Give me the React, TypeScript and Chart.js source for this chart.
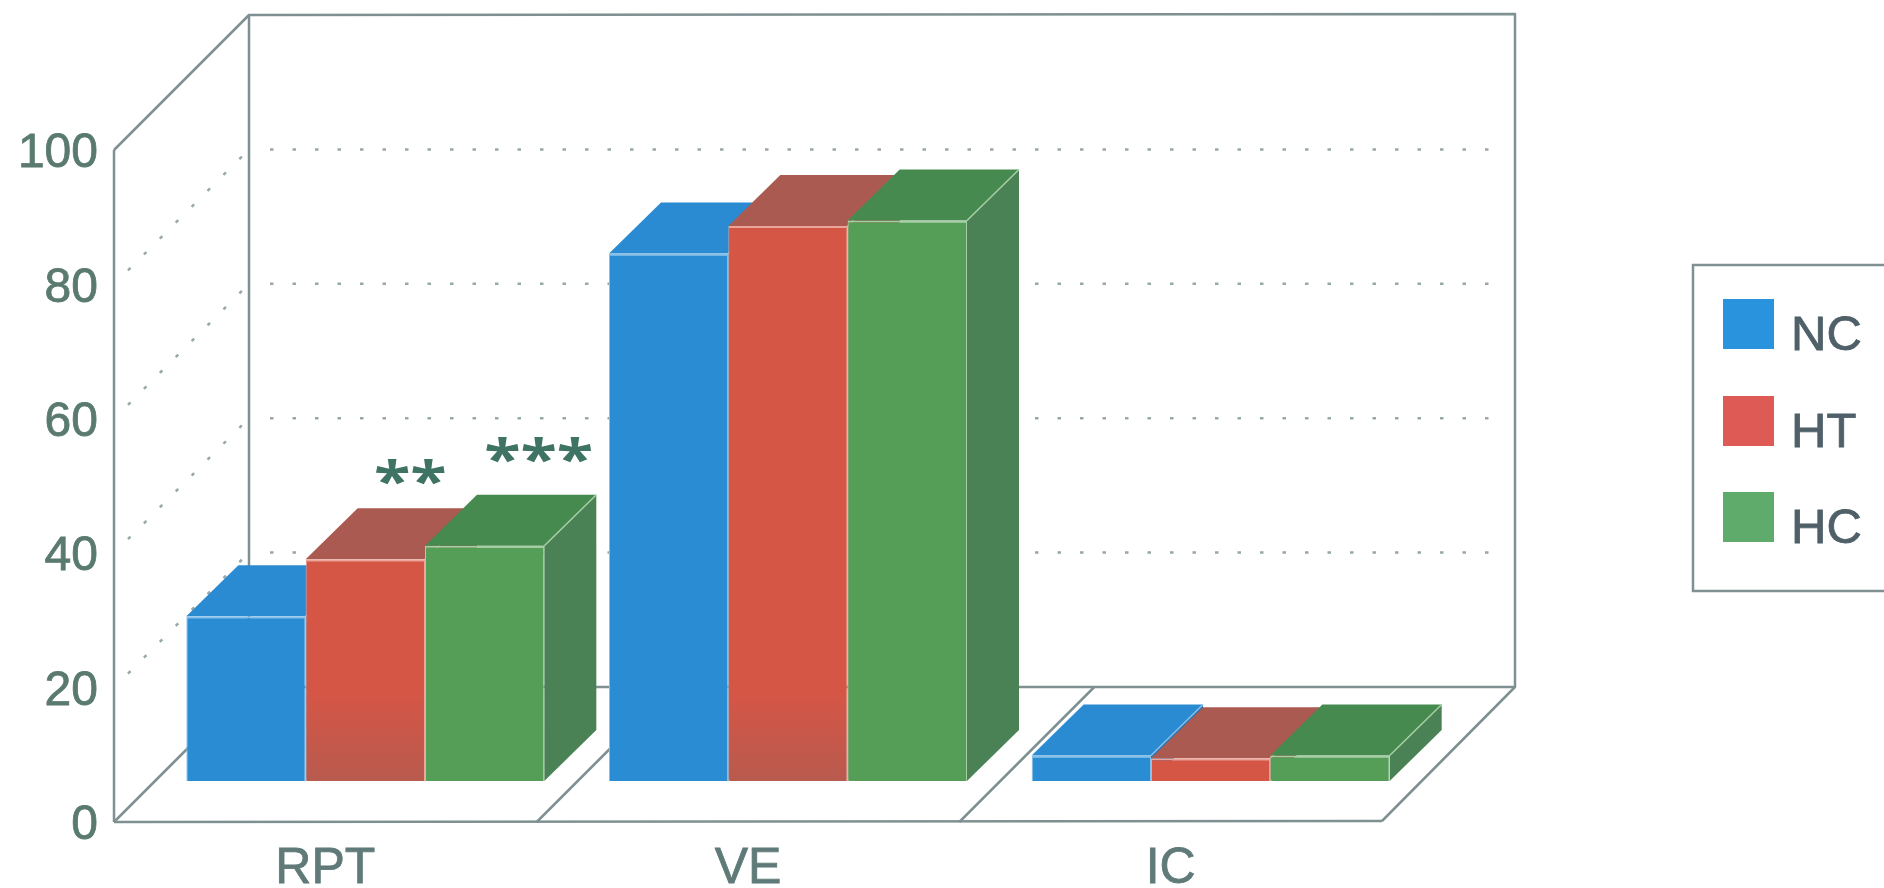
import React, { useEffect, useRef } from "react";
import { Chart, registerables } from "chart.js";

Chart.register(...registerables);

const categories = ["RPT", "VE", "IC"];
const seriesNames = ["NC", "HT", "HC"];
const ncValues = [24.5, 78.5, 3.8];
const htValues = [33, 82.6, 3.4];
const hcValues = [35, 83.4, 3.8];
const htMarks = ["**", "", ""];
const hcMarks = ["***", "", ""];
const yTicks = [0, 20, 40, 60, 80, 100];

const FRONT = ["#2a8cd3", "#d65646", "#549e57"];
const EDGE = ["#86c0ea", "#eba497", "#a6d0a4"];
const TOP = ["#2b8bd2", "#aa5a50", "#478a50"];
const SIDE = ["#2476b4", "#8f4a42", "#4a8256"];
const LEGEND = ["#2a93dd", "#dd5a55", "#5fab6b"];
const FRAME = "#7f9092";
const DEPTH_X = 135, DEPTH_Y = 135;
const SHIFT_X = 40, SHIFT_Y = 41, BAR_DX = 52, BAR_DY = 51;

const poly = (ctx: any, pts: number[][]) => {
  ctx.beginPath();
  pts.forEach(([x, y], i) => (i ? ctx.lineTo(x, y) : ctx.moveTo(x, y)));
};

const threeD = {
  id: "threeD",
  beforeDatasetsDraw(chart: any) {
    const { ctx, chartArea: a, scales } = chart;
    const { y: ys } = scales;
    ctx.save();
    // solid frame of the box
    ctx.strokeStyle = FRAME;
    ctx.lineWidth = 2.5;
    ctx.lineJoin = "round";
    const b = a.bottom, t = a.top, l = a.left, r = a.right;
    const segs = [
      [[l, t], [l, b]],
      [[l, t], [l + DEPTH_X, t - DEPTH_Y], [r + DEPTH_X - 2, t - DEPTH_Y - 1], [r + DEPTH_X - 2, b - DEPTH_Y], [r, b - 1]],
      [[l + DEPTH_X, t - DEPTH_Y], [l + DEPTH_X, b - DEPTH_Y]],
      [[l + DEPTH_X, b - DEPTH_Y], [r + DEPTH_X - 2, b - DEPTH_Y]],
      [[l, b], [r, b - 1]],
      [[l, b], [l + DEPTH_X, b - DEPTH_Y]],
    ];
    const step = (r - l) / categories.length;
    for (let i = 1; i < categories.length; i++) {
      segs.push([[l + step * i, b], [l + step * i + DEPTH_X, b - DEPTH_Y]]);
    }
    segs.forEach((s) => { poly(ctx, s); ctx.stroke(); });
    // dotted grid on the walls
    ctx.strokeStyle = "#98a7a7";
    ctx.lineWidth = 2.5;
    ctx.setLineDash([3.5, 19]);
    yTicks.forEach((v) => {
      if (v === 0 || v === 100) return;
      const y = ys.getPixelForValue(v);
      poly(ctx, [[l + 14, y - 14], [l + DEPTH_X, y - DEPTH_Y]]);
      ctx.stroke();
      poly(ctx, [[l + DEPTH_X + 21, y - DEPTH_Y], [r + DEPTH_X - 14, y - DEPTH_Y]]);
      ctx.stroke();
    });
    ctx.restore();

    // bars stand further back on the floor; drawn left to right so that each
    // one overlaps the top of the one before it
    ctx.save();
    ctx.translate(SHIFT_X, -SHIFT_Y);
    for (let i = 0; i < seriesNames.length; i++) {
      const meta = chart.getDatasetMeta(i);
      meta.data.forEach((bar: any) => {
        const { x, y, base, width } = bar.getProps(["x", "y", "base", "width"], true);
        const L = x - width / 2, R = x + width / 2;
        ctx.fillStyle = SIDE[i];
        poly(ctx, [[R, y], [R + BAR_DX, y - BAR_DY], [R + BAR_DX, base - BAR_DY], [R, base]]);
        ctx.closePath();
        ctx.fill();
        ctx.fillStyle = TOP[i];
        poly(ctx, [[L, y], [L + BAR_DX, y - BAR_DY], [R + BAR_DX, y - BAR_DY], [R, y]]);
        ctx.closePath();
        ctx.fill();
        ctx.strokeStyle = EDGE[i];
        ctx.lineWidth = 1.5;
        poly(ctx, [[R, y], [R + BAR_DX, y - BAR_DY]]);
        ctx.stroke();
      });
      meta.controller.draw();
    }
    ctx.restore();
    return false;
  },
  afterDraw(chart: any) {
    const { ctx } = chart;
    ctx.save();
    // significance marks
    ctx.fillStyle = "#3f7363";
    ctx.font = "bold 58px 'Open Sans'";
    ctx.textAlign = "center";
    ctx.textBaseline = "alphabetic";
    [[1, htMarks, 45, 59], [2, hcMarks, 54, 68]].forEach(([ds, marks, dx, dy]: any) => {
      const meta = chart.getDatasetMeta(ds);
      marks.forEach((m: string, k: number) => {
        if (!m) return;
        const bar = meta.data[k];
        ctx.save();
        ctx.translate(bar.x + SHIFT_X + dx, bar.y - SHIFT_Y - dy);
        ctx.scale(1.15, 0.92);
        ctx.fillText(m, 0, 0);
        ctx.restore();
      });
    });
    // legend
    ctx.strokeStyle = FRAME;
    ctx.lineWidth = 2.5;
    ctx.strokeRect(1693, 265, 260, 326);
    ctx.font = "49px 'Liberation Sans'";
    ctx.textAlign = "left";
    ctx.textBaseline = "middle";
    const swatchY = [299, 396, 492];
    seriesNames.forEach((n, i) => {
      ctx.fillStyle = LEGEND[i];
      ctx.fillRect(1723, swatchY[i], 51, 50);
      ctx.fillStyle = "#4f6068";
      ctx.lineWidth = 0.8;
      ctx.strokeStyle = "#4f6068";
      ctx.fillText(n, 1791, swatchY[i] + 37);
      ctx.strokeText(n, 1791, swatchY[i] + 37);
    });
    ctx.restore();
  },
};

const frontColor = (i: number) => (c: any) => {
  if (i !== 1 || !c.chart.chartArea || typeof c.raw !== "number" || c.raw < 10) return FRONT[i];
  const b = c.chart.chartArea.bottom;
  const g = c.chart.ctx.createLinearGradient(0, b, 0, b - 90);
  g.addColorStop(0, "#b85a4e");
  g.addColorStop(1, FRONT[i]);
  return g;
};

export default function App() {
  const ref = useRef<HTMLCanvasElement>(null);
  useEffect(() => {
    const chart = new Chart(ref.current as any, {
      type: "bar",
      data: {
        labels: categories,
        datasets: [ncValues, htValues, hcValues].map((data, i) => ({
          label: seriesNames[i],
          data,
          backgroundColor: frontColor(i),
          borderColor: EDGE[i],
          borderWidth: { top: 2, right: 1, left: 1, bottom: 0 },
          categoryPercentage: 0.847,
          barPercentage: 1,
        })),
      },
      options: {
        animation: false,
        responsive: false,
        layout: { padding: { top: 150, right: 502, left: 0, bottom: 0 } },
        plugins: { legend: { display: false }, tooltip: { enabled: false } },
        scales: {
          x: {
            grid: { display: false },
            border: { display: false },
            afterFit: (s: any) => { s.height = 66; },
            ticks: {
              color: "#5f7a78",
              padding: 9,
              maxRotation: 0,
              textStrokeColor: "#5f7a78",
              textStrokeWidth: 0.8,
              font: { family: "'Liberation Sans'", size: 50 },
            },
          },
          y: {
            min: 0,
            max: 100,
            grid: { display: false },
            border: { display: false },
            afterFit: (s: any) => { s.width = 114; },
            afterBuildTicks: (s: any) => { s.ticks = yTicks.map((value) => ({ value })); },
            ticks: {
              color: "#5a7a70",
              padding: 8,
              labelOffset: 4,
              textStrokeColor: "#5a7a70",
              textStrokeWidth: 0.8,
              font: { family: "'Liberation Sans'", size: 48 },
            },
          },
        },
      },
      plugins: [threeD],
    } as any);
    return () => chart.destroy();
  }, []);
  return (
    <div style={{ position: "absolute", left: 0, top: 0, width: 1884, height: 888, overflow: "hidden", background: "#fff" }}>
      <canvas ref={ref} width={1884} height={888} style={{ display: "block" }} />
    </div>
  );
}
